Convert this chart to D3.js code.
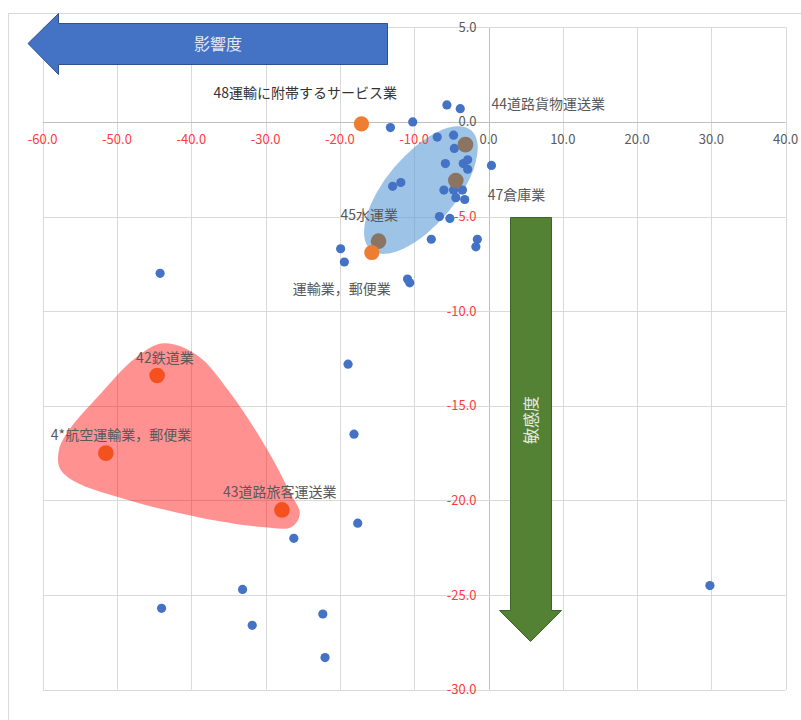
<!DOCTYPE html>
<html><head><meta charset="utf-8">
<script src="https://cdn.jsdelivr.net/npm/d3@7"></script>
<style>
html,body{margin:0;padding:0;background:#fff;}
svg{display:block;font-family:"Noto Sans CJK JP","Noto Sans",sans-serif;}
</style></head>
<body><svg id="chart" width="801" height="720"></svg>
<script>
// ---- data ----
const xTickValues = [-60,-50,-40,-30,-20,-10,0,10,20,30,40];
const yTickValues = [5,0,-5,-10,-15,-20,-25,-30];

// small blue points: impact (x) and sensitivity (y)
const otherX = [-5.6,-3.8,-10.2,-13.2,-6.9,-4.7,-4.6,-5.8,-3.4,-2.8,-2.8,0.4,-12.9,-11.8,-6.0,-4.7,-3.5,-4.4,-3.2,-6.6,-5.2,-19.9,-19.4,-7.7,-1.5,-1.7,-10.9,-10.6,-44.2,-18.9,-18.1,-17.6,-26.2,-33.1,-31.8,-22.3,-22.0,-44.0,29.8];
const otherY = [0.9,0.7,0.0,-0.3,-0.8,-0.7,-1.4,-2.2,-2.2,-2.0,-2.5,-2.3,-3.4,-3.2,-3.6,-3.6,-3.6,-4.0,-4.1,-5.0,-5.1,-6.7,-7.4,-6.2,-6.2,-6.6,-8.3,-8.5,-8.0,-12.8,-16.5,-21.2,-22.0,-24.7,-26.6,-26.0,-28.3,-25.7,-24.5];

// highlighted industries
const freightNames = ["44道路貨物運送業","47倉庫業","45水運業"];
const freightX = [-3.1,-4.4,-14.8];
const freightY = [-1.2,-3.1,-6.3];

const totalNames = ["48運輸に附帯するサービス業","運輸業，郵便業"];
const totalX = [-17.1,-15.7];
const totalY = [-0.1,-6.9];

const passengerNames = ["42鉄道業","4*航空運輸業，郵便業","43道路旅客運送業"];
const passengerX = [-44.6,-51.5,-27.8];
const passengerY = [-13.4,-17.5,-20.5];

// annotation outline of the red group (data units)
const redBlobX = [-43.8,-39.3,-34.8,-29.8,-26.7,-25.4,-26.5,-30.5,-38.9,-48.3,-55.7,-57.7,-57.8,-56.3,-52.3,-47.6];
const redBlobY = [-11.7,-12.3,-14.3,-17.3,-19.6,-20.7,-21.4,-21.4,-20.9,-20.0,-19.0,-18.3,-17.3,-16.2,-14.4,-12.5];
const blueBlobCenter = [-9.1,-3.6];

// ---- layout / style ----
const labelOffsets = {
  "48運輸に附帯するサービス業":[-148,-31],
  "44道路貨物運送業":[26,-41],
  "47倉庫業":[32,14],
  "45水運業":[-38,-26],
  "運輸業，郵便業":[-79,36],
  "42鉄道業":[-21,-18],
  "4*航空運輸業，郵便業":[-55,-18],
  "43道路旅客運送業":[-59,-18]
};

const svg = d3.select("#chart");
const x = d3.scaleLinear().domain([-60,40]).range([42.7,785.7]);
const y = d3.scaleLinear().domain([-30,5]).range([689.7,27.3]);
const fmt = v => d3.format(".1f")(v).replace("\u2212","-");

// outer chart border
svg.append("rect").attr("x",8.5).attr("y",13.5).attr("width",900).attr("height",900)
  .attr("fill","none").attr("stroke","#d9d9d9");

// gridlines
const grid = svg.append("g");
grid.selectAll("line.v").data(xTickValues).join("line")
  .attr("x1",d=>Math.round(x(d))+0.5).attr("x2",d=>Math.round(x(d))+0.5)
  .attr("y1",y(5)).attr("y2",y(-30))
  .attr("stroke",d=>d===0?"#bfbfbf":"#d9d9d9").attr("stroke-width",1);
grid.selectAll("line.h").data(yTickValues).join("line")
  .attr("y1",d=>Math.round(y(d))+0.5).attr("y2",d=>Math.round(y(d))+0.5)
  .attr("x1",x(-60)).attr("x2",x(40))
  .attr("stroke",d=>d===0?"#bfbfbf":"#d9d9d9").attr("stroke-width",1);

// blobs
const blobLine = d3.line().x(d=>x(d[0])).y(d=>y(d[1])).curve(d3.curveCatmullRomClosed.alpha(0.5));
svg.append("path").datum(redBlobX.map((v,i)=>[v,redBlobY[i]]))
  .attr("d",blobLine).attr("fill","#ff0000").attr("fill-opacity",0.43);
svg.append("ellipse")
  .attr("transform",`translate(${x(blueBlobCenter[0])},${y(blueBlobCenter[1])}) rotate(-50)`)
  .attr("rx",78).attr("ry",35).attr("fill","#5b9bd5").attr("fill-opacity",0.6);

// axis tick labels
svg.append("g").selectAll("text").data(xTickValues).join("text")
  .attr("x",d=>x(d)).attr("y",y(0)+18).attr("dy","0.35em")
  .attr("text-anchor","middle").attr("font-size",13)
  .attr("fill",d=>d<0?"#ff3b3b":"#595959").text(fmt);
svg.append("g").selectAll("text").data(yTickValues).join("text")
  .attr("x",x(0)-12).attr("y",d=>y(d)).attr("dy","0.35em")
  .attr("text-anchor","end").attr("font-size",13)
  .attr("fill",d=>d<0?"#ff3b3b":"#595959").text(fmt);

// blue arrow (影響度)
const ba = svg.append("g");
ba.append("path").attr("d","M28,43.5 L58.5,13.5 L58.5,23.5 L387.5,23.5 L387.5,64.5 L58.5,64.5 L58.5,74.5 Z")
  .attr("fill","#4472c4").attr("stroke","#2f528f").attr("stroke-width",1);
ba.append("text").attr("x",218).attr("y",44).attr("dy","0.36em").attr("text-anchor","middle")
  .attr("font-size",16).attr("fill","#e4e9f4").text("影響度");

// green arrow (敏感度)
const ga = svg.append("g");
ga.append("path").attr("d","M510.5,217.5 L551.5,217.5 L551.5,610.5 L561.5,610.5 L530.5,641.5 L499.5,610.5 L510.5,610.5 Z")
  .attr("fill","#548235").attr("stroke","#3f6428").attr("stroke-width",1);
ga.append("text").attr("transform","translate(531,420) rotate(-90)").attr("dy","0.36em")
  .attr("text-anchor","middle").attr("font-size",16).attr("fill","#e6ece2").text("敏感度");

// points
svg.append("g").selectAll("circle").data(otherX.map((v,i)=>[v,otherY[i]])).join("circle")
  .attr("cx",d=>x(d[0])).attr("cy",d=>y(d[1])).attr("r",4.6).attr("fill","#4472c4");

function group(names,xs,ys,color,r){
  const data = names.map((n,i)=>({n,x:xs[i],y:ys[i]}));
  svg.append("g").selectAll("circle").data(data).join("circle")
    .attr("cx",d=>x(d.x)).attr("cy",d=>y(d.y)).attr("r",r).attr("fill",color);
  return data;
}
const labelData = [];
labelData.push(...group(freightNames,freightX,freightY,"#8c7462",7.8));
labelData.push(...group(totalNames,totalX,totalY,"#ed7d31",7.6));
labelData.push(...group(passengerNames,passengerX,passengerY,"#f4511e",7.8));

svg.append("g").selectAll("text").data(labelData).join("text")
  .attr("x",d=>x(d.x)+labelOffsets[d.n][0]).attr("y",d=>y(d.y)+labelOffsets[d.n][1])
  .attr("dy","0.36em").attr("font-size",14)
  .attr("fill",d=>d.n.startsWith("48")?"#333333":"#595959").text(d=>d.n);
</script></body></html>
